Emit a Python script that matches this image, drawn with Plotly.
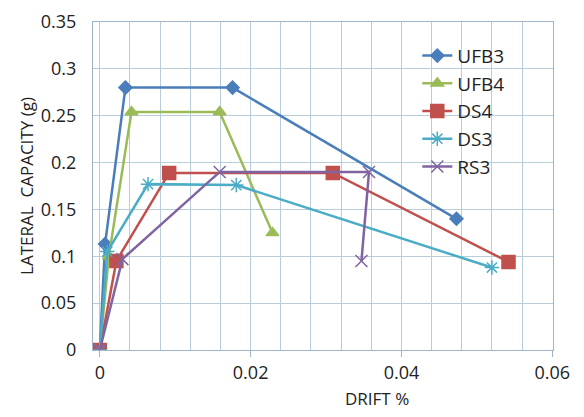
import plotly.graph_objects as go

series = ["UFB3", "UFB4", "DS4", "DS3", "RS3"]
ufb3_x = [0, 0.0007, 0.0034, 0.0176, 0.0473]
ufb3_y = [0, 0.113, 0.28, 0.28, 0.14]
ufb4_x = [0, 0.0012, 0.0042, 0.0159, 0.0229]
ufb4_y = [0, 0.10, 0.254, 0.254, 0.125]
ds4_x = [0, 0.0022, 0.0092, 0.0309, 0.0542]
ds4_y = [0, 0.095, 0.189, 0.189, 0.094]
ds3_x = [0, 0.0010, 0.0064, 0.0181, 0.052]
ds3_y = [0, 0.105, 0.177, 0.176, 0.088]
rs3_x = [0, 0.003, 0.0159, 0.0357, 0.0347]
rs3_y = [0, 0.097, 0.19, 0.19, 0.095]

xs = [ufb3_x, ufb4_x, ds4_x, ds3_x, rs3_x]
ys = [ufb3_y, ufb4_y, ds4_y, ds3_y, rs3_y]
colors = ["#4A7EBB", "#9BBB59", "#C0504D", "#4BACC6", "#8064A2"]
symbols = ["diamond", "triangle-up", "square", "asterisk-open", "x-thin-open"]
sizes = [10, 11, 13, 12, 12]

fig = go.Figure()
for name, x, y, c, s, sz in zip(series, xs, ys, colors, symbols, sizes):
    fig.add_trace(go.Scatter(
        x=x, y=y, name=name, mode="lines+markers",
        line=dict(color=c, width=2.5),
        marker=dict(symbol=s, size=sz, color=c, line=dict(color=c, width=1.5)),
    ))

font = dict(family="Open Sans, Liberation Sans, sans-serif", size=18, color="#222222")

# page body adds an 8px offset, so margins are trimmed by that much
fig.update_layout(
    width=584, height=417,
    margin=dict(l=85, r=39, t=14, b=75),
    paper_bgcolor="white", plot_bgcolor="white",
    font=font,
    showlegend=True,
    legend=dict(x=0.705, y=0.955, xanchor="left", yanchor="top",
                bgcolor="rgba(0,0,0,0)", tracegroupgap=0,
                font=dict(size=19)),
)
# x title drawn as annotation, it sits right of centre in the original
fig.add_annotation(text="DRIFT %", x=0.617, y=-0.108, xref="paper", yref="paper",
                   xanchor="center", yanchor="top", showarrow=False,
                   font=dict(size=17))
fig.update_xaxes(
    range=[-0.0009, 0.0601], dtick=0.02, tick0=0, automargin=False,
    ticklabeloverflow="allow",
    showgrid=True, gridcolor="#B9CCDA", gridwidth=1,
    minor=dict(dtick=0.004, tick0=0, showgrid=True, gridcolor="#B9CCDA", gridwidth=1),
    showline=True, linecolor="#9FB4C6", mirror=True,
    ticks="outside", ticklen=6, tickcolor="#9FB4C6",
    zeroline=False,
)
fig.update_yaxes(
    range=[0, 0.35], dtick=0.05, automargin=False,
    ticklabeloverflow="allow",
    showgrid=True, gridcolor="#B9CCDA", gridwidth=1,
    showline=True, linecolor="#9FB4C6", mirror=True,
    ticks="", ticklabelstandoff=12, zeroline=False,
    title=dict(text="LATERAL  CAPACITY (g)", standoff=2, font=dict(size=17)),
)

fig.write_html("out.html")
